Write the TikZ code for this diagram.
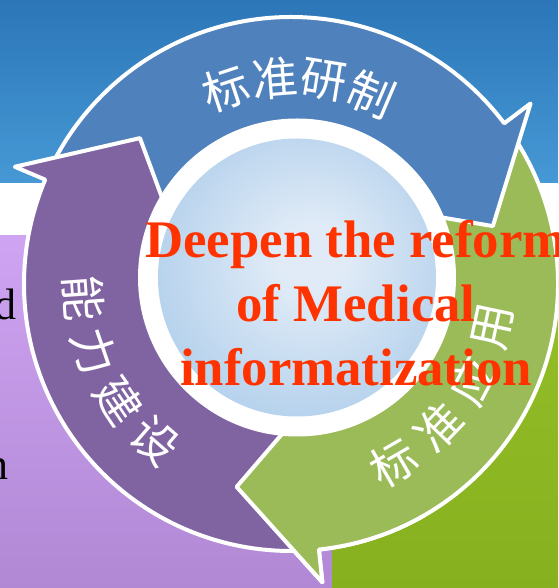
\documentclass[tikz,border=0pt]{standalone}
\usepackage{fontspec}
\newfontfamily\cjkfont{Noto Sans CJK SC}
\newfontfamily\timesfont{Liberation Serif}

\definecolor{bandtop}{RGB}{44,118,184}
\definecolor{bandbot}{RGB}{70,153,213}
\definecolor{lilactop}{RGB}{207,164,242}
\definecolor{lilacbot}{RGB}{176,136,212}
\definecolor{limetop}{RGB}{152,194,42}
\definecolor{limebot}{RGB}{134,176,30}
\definecolor{arrblue}{RGB}{79,129,189}
\definecolor{arrpurple}{RGB}{128,100,162}
\definecolor{arrgreen}{RGB}{155,187,89}
\definecolor{discin}{RGB}{224,235,247}
\definecolor{discout}{RGB}{138,184,226}
\definecolor{titlered}{RGB}{255,51,0}

\pgfdeclareradialshading{discglow}{\pgfpoint{3bp}{4bp}}{color(0bp)=(discin); color(6bp)=(discin); color(50bp)=(discout)}

% ring radii of the cycle arrows
\def\Ri{140pt}
\def\Ro{267pt}
\def\Rm{210pt}
\def\Rbi{125pt}
\def\Rbo{300pt}
% #1 colour, #2 tail angle, #3 base angle of the head
\newcommand\ringarrow[3]{%
  \filldraw[arrowpart, fill=#1] (#2:\Ro) arc[start angle=#2, end angle=#3, radius=\Ro]
    -- (#3:\Rbo) -- ({#3-21}:\Rm) -- (#3:\Rbi) -- (#3:\Ri)
    arc[start angle=#3, end angle=#2, radius=\Ri] -- cycle;}

\begin{document}
\begin{tikzpicture}
  [x=1pt,y=1pt,
   arrowpart/.style={draw=white, line width=4pt, line join=round},
   ringlabel/.style={text=white, inner sep=0pt, font=\cjkfont\fontsize{46}{46}\selectfont},
   fragment/.style={text=black, inner sep=0pt, anchor=base east, font=\timesfont\fontsize{44}{44}\selectfont}]
  \useasboundingbox (0,0) rectangle (558,588);
  \clip (0,0) rectangle (558,588);
  % backdrop
  \fill[white] (0,0) rectangle (558,588);
  \shade[top color=bandtop, bottom color=bandbot] (0,405) rectangle (558,588);
  \shade[top color=lilactop, bottom color=lilacbot] (0,0) rectangle (332,352);
  \shade[top color=limetop, bottom color=limebot] (332,0) rectangle (558,352);
  \node[fragment] (frag-d) at (17,268) {d};
  \node[fragment] (frag-n) at (9,108) {n};
  % cycle
  \begin{scope}[shift={(291,304)}]
    \ringarrow{arrgreen}{32}{-84}
    \ringarrow{arrblue}{152}{37}
    \ringarrow{arrpurple}{271}{157}
    \begin{scope}
      \clip (0,0) -- (-115:400pt) arc[start angle=-115, end angle=-60, radius=400pt] -- cycle;
      \ringarrow{arrgreen}{32}{-84}
    \end{scope}
    \fill[white] (6,6.5) circle[radius=159pt];
    \shade[shading=discglow] (6,6.5) circle[radius=139pt];
    \foreach \ch [count=\i] in {标,准,研,制}
      \node[ringlabel, rotate=122.1-13.8*\i-90] (top-\i) at ({122.1-13.8*\i}:206pt) {\ch};
    \foreach \ch [count=\i] in {能,力,建,设}
      \node[ringlabel, rotate=169+15*\i+90] (left-\i) at ({169+15*\i}:208pt) {\ch};
    \foreach \ch [count=\i] in {标,准,应,用}
      \node[ringlabel, rotate=-76+16*\i+90] (right-\i) at ({-76+16*\i}:206pt) {\ch};
  \end{scope}
  \node[text=titlered, align=center, inner sep=0pt,
        font=\timesfont\bfseries\fontsize{52.8}{64}\selectfont] (title) at (356,285)
        {Deepen the reform\\of Medical\\informatization};
\end{tikzpicture}
\end{document}
